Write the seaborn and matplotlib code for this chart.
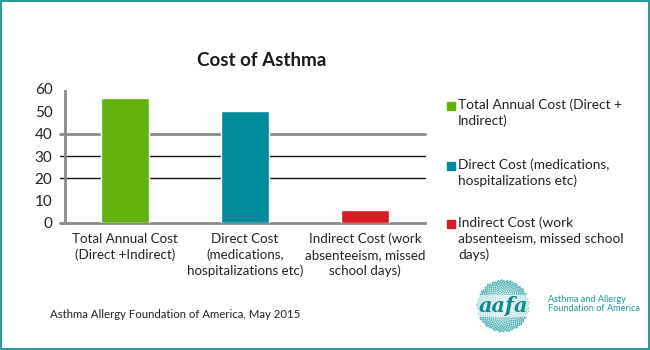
import matplotlib
matplotlib.use("Agg")
import matplotlib.pyplot as plt
from matplotlib.patches import Rectangle
import seaborn as sns
import numpy as np
import pandas as pd

# ---- data ----
categories = ["Total Annual Cost\n(Direct +Indirect)",
              "Direct Cost\n(medications,\nhospitalizations etc)",
              "Indirect Cost (work\nabsenteeism, missed\nschool days)"]
values = [56, 50, 6]
legend_labels = ["Total Annual Cost (Direct +\nIndirect)",
                 "Direct Cost (medications,\nhospitalizations etc)",
                 "Indirect Cost (work\nabsenteeism, missed school\ndays)"]
colors = ["#63b30f", "#008b9b", "#d71c24"]
yticks = [0, 10, 20, 30, 40, 50, 60]
title = "Cost of Asthma"
source = "Asthma Allergy Foundation of America, May 2015"

sns.set_theme(style="white")
plt.rcParams["font.family"] = ["Lato", "DejaVu Sans"]

fig = plt.figure(figsize=(6.5, 3.5), dpi=100)
ax = fig.add_axes([65/650, 1-223/350, 360/650, 134/350])

df = pd.DataFrame({"cat": categories, "val": values})
sns.barplot(data=df, x="cat", y="val", hue="cat", palette=colors,
            width=0.4, legend=False, ax=ax, saturation=1, zorder=3)

ax.set_xlim(-0.5, 2.5)
ax.set_ylim(0, 60)
ax.set_yticks(yticks)
ax.set_yticklabels([str(t) for t in yticks], fontsize=11, color="#222222")
ax.set_xlabel("")
ax.set_ylabel("")
ax.tick_params(axis="y", length=0, pad=9)
ax.tick_params(axis="x", length=0, pad=7, labelsize=9.6, labelcolor="#222222")
for lab in ax.get_xticklabels():
    lab.set_multialignment("center")
    lab.set_linespacing(1.35)

# boundaries ticks on x axis
ax.set_xticks([0.5, 1.5, 2.5], minor=True)
ax.tick_params(axis="x", which="minor", length=4, width=1.5, color="#8a8a8a",
               direction="out")

for s in ["top", "right"]:
    ax.spines[s].set_visible(False)
for s in ["left", "bottom"]:
    ax.spines[s].set_color("#8a8a8a")
    ax.spines[s].set_linewidth(2)
ax.spines["left"].set_bounds(0, 59)

# gridlines
ax.axhline(40, xmin=-0.015, xmax=1, color="#8a8a8a", lw=2, zorder=1, clip_on=False)
for g in [20, 30]:
    ax.axhline(g, xmin=-0.015, xmax=1, color="#111111", lw=1, zorder=1, clip_on=False)
ax.axhline(0, xmin=-0.015, xmax=0, color="#8a8a8a", lw=2, clip_on=False)

# title
fig.text(262/650, 1-60/350, title, ha="center", va="center",
         fontsize=13.5, fontweight="bold", color="#1a1a1a")

# legend (manual)
leg_y = [106, 166, 224]
for lbl, c, y in zip(legend_labels, colors, leg_y):
    fig.add_artist(Rectangle((447/650, 1-(y+4)/350), 8/650, 8/350,
                             transform=fig.transFigure, color=c))
    fig.text(458/650, 1-(y-8)/350, lbl, ha="left", va="top",
             fontsize=9.8, color="#222222", linespacing=1.4)

# source
fig.text(50/650, 1-314/350, source, ha="left", va="center",
         fontsize=8.2, color="#222222")

# logo
teal = "#1a9aa0"
n = 600
k = np.arange(n)
r = 26 * np.sqrt((k + 0.5) / n)
th = k * 2.39996
lx = 503 + r * np.cos(th)
ly = 306 + r * np.sin(th)
sizes = 1.5 * (0.35 + (r / 26))
ax_logo = fig.add_axes([0, 0, 1, 1], zorder=-1)
ax_logo.set_xlim(0, 650)
ax_logo.set_ylim(350, 0)
ax_logo.axis("off")
ax_logo.scatter(lx, ly, s=sizes, color=teal, alpha=0.75, linewidths=0)
ax_logo.text(503, 306, "aafa", ha="center", va="center", fontsize=15,
             fontstyle="italic", fontweight="bold", color="#0e8a90",
             family=["DejaVu Serif"],
             bbox=dict(boxstyle="round,pad=0.05", fc="white", ec="none", alpha=0.6))
ax_logo.text(548, 304, "Asthma and Allergy\nFoundation of America", ha="left",
             va="center", fontsize=6.6, color=teal, linespacing=1.1)

# border
fig.add_artist(Rectangle((0.001, 0.002), 0.997, 0.995, transform=fig.transFigure,
                         fill=False, ec="#2a9c9e", lw=1.5))

fig.savefig("out.png", dpi=100)
